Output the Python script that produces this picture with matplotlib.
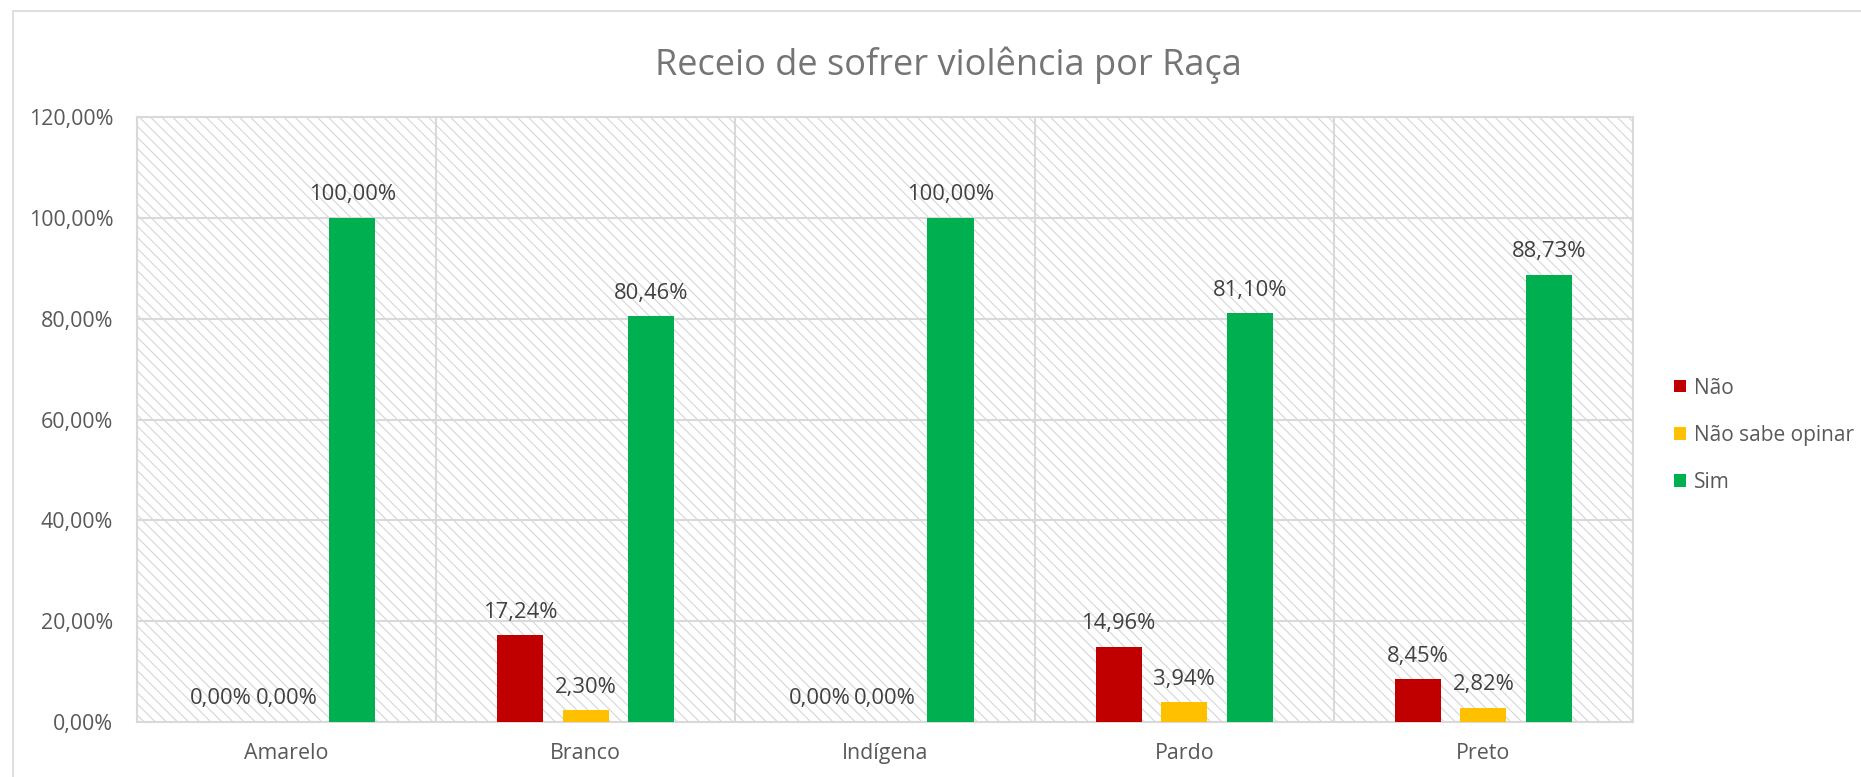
import matplotlib.pyplot as plt
from matplotlib.patches import Rectangle, Patch
import numpy as np

plt.rcParams['font.family'] = ['Open Sans', 'DejaVu Sans']
plt.rcParams['hatch.linewidth'] = 0.8

# data
racas = ['Amarelo', 'Branco', 'Indígena', 'Pardo', 'Preto']
nao = [0.00, 17.24, 0.00, 14.96, 8.45]
nao_sabe = [0.00, 2.30, 0.00, 3.94, 2.82]
sim = [100.00, 80.46, 100.00, 81.10, 88.73]
series = ['Não', 'Não sabe opinar', 'Sim']
cores = ['#C00000', '#FFC000', '#00B050']
yticks = [0, 20, 40, 60, 80, 100, 120]

def fmt(v):
    return f'{v:.2f}'.replace('.', ',') + '%'

fig = plt.figure(figsize=(18.61, 7.77), dpi=100)
ax = fig.add_axes([0.0736, 0.0708, 0.8039, 0.7786])

# outer chart border (cut off on right/bottom in the original)
fig.patches.append(Rectangle((13 / 1861, -0.1), 1.2, 1.1 - 11 / 777,
                             transform=fig.transFigure, fill=False,
                             edgecolor='#d9d9d9', linewidth=1.2))

# hatched plot area background
ax.patch.set_visible(False)
bg = Rectangle((0, 0), 1, 1, transform=ax.transAxes, facecolor='white',
               edgecolor='#d6d6d6', hatch='\\\\\\', linewidth=0, zorder=0)
ax.add_patch(bg)

x = np.arange(len(racas))
w = 0.154
off = 0.219
for i, (vals, cor) in enumerate(zip([nao, nao_sabe, sim], cores)):
    pos = x + (i - 1) * off
    ax.bar(pos, vals, width=w, color=cor, zorder=3)
    for p, v in zip(pos, vals):
        ax.annotate(fmt(v), (p, v), xytext=(0, 9), textcoords='offset points',
                    ha='center', va='bottom', fontsize=15.8, color='#404040',
                    zorder=4)

ax.set_xlim(-0.5, len(racas) - 0.5)
ax.set_ylim(0, 120)
ax.set_yticks(yticks)
ax.set_yticklabels([fmt(v) for v in yticks])
ax.set_xticks(x)
ax.set_xticklabels(racas)
ax.set_xticks(np.arange(-0.5, len(racas)), minor=True)
ax.tick_params(which='both', length=0, labelsize=15.4, labelcolor='#595959')
ax.tick_params(axis='x', pad=15)
ax.tick_params(axis='y', pad=17)
ax.grid(axis='y', color='#d9d9d9', linewidth=1.5, zorder=1)
ax.grid(axis='x', which='minor', color='#d9d9d9', linewidth=1.5, zorder=1)
ax.grid(axis='x', which='major', visible=False)
ax.set_axisbelow(True)
for s in ax.spines.values():
    s.set_color('#d9d9d9')
    s.set_linewidth(1.5)

fig.text(0.5095, 1 - 65.5 / 777, 'Receio de sofrer violência por Raça',
         ha='center', va='center', fontsize=26, color='#757575')

handles = [Patch(facecolor=c, edgecolor='none') for c in cores]
fig.legend(handles, series, loc='center left', bbox_to_anchor=(0.8895, 0.44),
           frameon=False, fontsize=15, labelcolor='#595959',
           handlelength=0.55, handleheight=0.55, handletextpad=0.4,
           labelspacing=1.25)

fig.savefig('out.png', dpi=100)
